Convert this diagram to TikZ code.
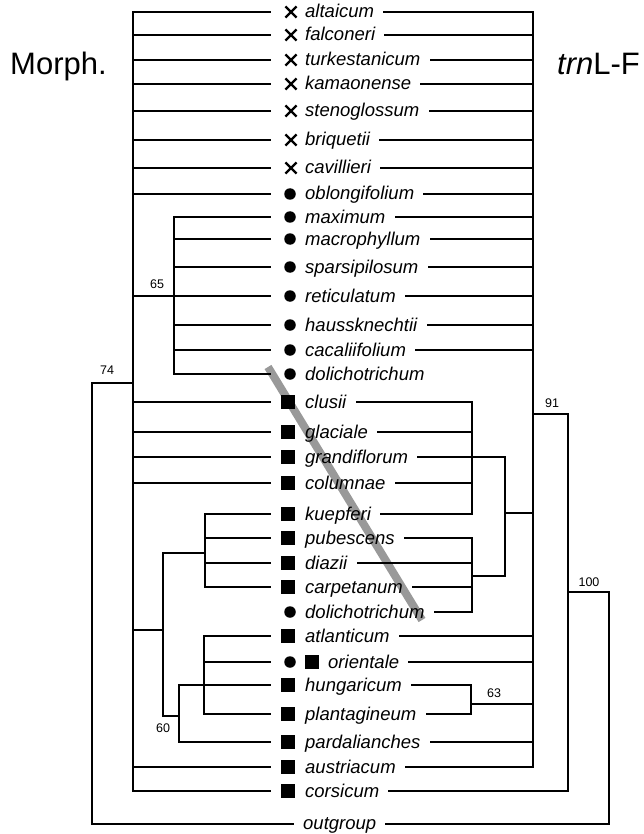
\documentclass[tikz,border=0pt]{standalone}
\usepackage{fontspec}
\setmainfont{Liberation Sans}
\usetikzlibrary{shapes.misc}

\tikzset{
  taxon/.style={anchor=base west, inner sep=0pt, font=\fontsize{18.5}{21}\selectfont\itshape},
  xsym/.style={cross out, draw, line width=2.2pt, minimum size=9pt, inner sep=0pt},
  dotsym/.style={circle, fill, minimum size=11.5pt, inner sep=0pt},
  boxsym/.style={rectangle, fill, minimum size=13.5pt, inner sep=0pt},
  branch/.style={line width=1.9pt, line cap=rect},
  support/.style={font=\fontsize{12.5}{14}\selectfont, inner sep=0pt},
  heading/.style={anchor=base west, inner sep=0pt, font=\fontsize{31}{34}\selectfont}
}

\begin{document}
\begin{tikzpicture}[x=1pt, y=-1pt]
\useasboundingbox (0,0) rectangle (643,834);

\node[heading] (morph) at (10,75) {Morph.};
\node[heading] (trnlf) at (557,75) {\textit{trn}L-F};

% shifted taxon
\draw[line width=8pt, black!40] (268,367) -- (422,620);

% taxa
\foreach \i/\y/\name in {1/12/altaicum, 2/35/falconeri, 3/60/turkestanicum,
    4/84/kamaonense, 5/111/stenoglossum, 6/140/briquetii, 7/168/cavillieri,
    8/194/oblongifolium, 9/217/maximum, 10/239/macrophyllum, 11/267/sparsipilosum,
    12/296/reticulatum, 13/325/haussknechtii, 14/350/cacaliifolium,
    15/374/dolichotrichum, 16/402/clusii, 17/432/glaciale, 18/457/grandiflorum,
    19/483/columnae, 20/514/kuepferi, 21/538/pubescens, 22/563/diazii,
    23/587/carpetanum, 24/612/dolichotrichum, 25/636/atlanticum,
    27/685/hungaricum, 28/714/plantagineum, 29/742/pardalianches,
    30/767/austriacum, 31/791/corsicum}{
  \coordinate (l\i) at (270,\y);
  \node[taxon] (t\i) at (305,\y+6) {\name};
}
\coordinate (l26) at (270,662);
\node[taxon] (t26) at (328,668) {orientale};
\coordinate (l32) at (293,824);
\node[taxon] (t32) at (303,829) {outgroup};

\foreach \i in {1,...,7} \node[xsym] (s\i) at ([xshift=21pt]l\i) {};
\foreach \i in {8,...,15,24,26} \node[dotsym] (s\i) at ([xshift=20pt]l\i) {};
\foreach \i in {16,...,23,25,27,28,29,30,31} \node[boxsym] (s\i) at ([xshift=18pt]l\i) {};
\node[boxsym] (s26b) at ([xshift=42pt]l26) {};

% left tree
\coordinate (n74) at (92,383);
\coordinate (nL) at (133,383);
\coordinate (n65) at (174,296);
\coordinate (nA) at (163,630);
\coordinate (nB) at (205,553);
\coordinate (n60) at (179,716);
\coordinate (nC) at (204,685);
\draw[branch] (l32) -- (n74 |- l32) -- (n74) -- (nL);
\draw[branch] (nL |- l1) -- (nL |- l31);
\foreach \i in {1,...,8,12,16,17,18,19,30,31} \draw[branch] (nL |- l\i) -- (l\i);
\draw[branch] (n65 |- l9) -- (n65 |- l15);
\foreach \i in {9,...,15} \draw[branch] (n65 |- l\i) -- (l\i);
\draw[branch] (nL |- nA) -- (nA);
\draw[branch] (nB) -- (nA |- nB) -- (nA |- n60) -- (n60);
\draw[branch] (nB |- l20) -- (nB |- l23);
\foreach \i in {20,...,23} \draw[branch] (nB |- l\i) -- (l\i);
\draw[branch] (n60 |- l27) -- (n60 |- l29);
\foreach \i in {27,29} \draw[branch] (n60 |- l\i) -- (l\i);
\draw[branch] (nC |- l25) -- (nC |- l28);
\foreach \i in {25,26,28} \draw[branch] (nC |- l\i) -- (l\i);

% right tree
\foreach \i in {1,...,32} \path (t\i.east |- l\i) ++(10,0) coordinate (r\i);
\coordinate (m91) at (533,414);
\coordinate (m100) at (568,592);
\coordinate (mR) at (609,592);
\coordinate (mG) at (505,513);
\coordinate (mH) at (472,576);
\coordinate (m63) at (471,704);
\draw[branch] (m91 |- l1) -- (m91 |- l30);
\foreach \i in {1,...,14,25,26,29,30} \draw[branch] (r\i) -- (m91 |- r\i);
\draw[branch] (m91) -- (m100 |- m91) -- (m100 |- l31) -- (r31);
\draw[branch] (m100) -- (mR) -- (mR |- l32) -- (r32);
\draw[branch] (mG) -- (m91 |- mG);
\draw[branch] (r18) -- (mG |- l18) -- (mG |- mH) -- (mH);
\draw[branch] (mH |- l16) -- (mH |- l20);
\foreach \i in {16,17,19,20} \draw[branch] (r\i) -- (mH |- r\i);
\draw[branch] (mH |- l21) -- (mH |- l24);
\foreach \i in {21,...,24} \draw[branch] (r\i) -- (mH |- r\i);
\draw[branch] (m63) -- (m91 |- m63);
\draw[branch] (r27) -- (m63 |- l27) -- (m63 |- l28) -- (r28);

% support values
\node[support] (b74) at (107,370) {74};
\node[support] (b65) at (157,284) {65};
\node[support] (b60) at (163,728) {60};
\node[support] (b91) at (552,403) {91};
\node[support] (b63) at (494,693) {63};
\node[support] (b100) at (589,582) {100};
\end{tikzpicture}
\end{document}
